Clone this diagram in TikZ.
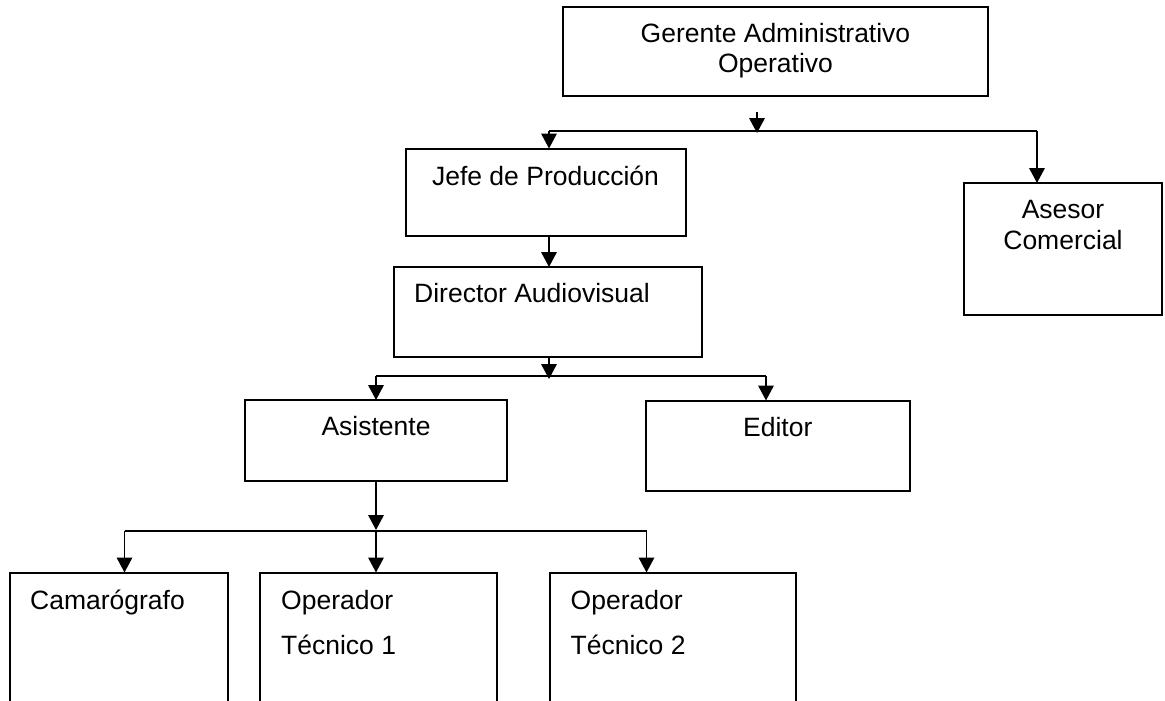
\documentclass[tikz,border=0pt]{standalone}
\usepackage{fontspec}
\setmainfont{Liberation Sans}
\usepackage{tikz}
\usetikzlibrary{arrows.meta,positioning}
\tikzstyle{caja}=[
	rectangle,
	draw=black,
	line width=2pt,
	anchor=north west,
	outer sep=0pt,
	inner sep=0pt
]
\tikzstyle{texto}=[
	font=\fontsize{26.5}{30.5}\selectfont,
	inner sep=0pt,
	align=center
]
\tikzstyle{textoizq}=[
	font=\fontsize{26.5}{45.3}\selectfont,
	inner sep=0pt,
	align=left
]
\tikzstyle{linea}=[
	-,
	draw=black,
	line width=1.9pt
]
\tikzstyle{flecha}=[
	linea,
	-{Triangle[length=15pt,width=15.5pt]}
]

\begin{document}
\begin{tikzpicture}[x=1pt,y=-1pt]
\useasboundingbox (0,0) rectangle (1165,701);
\clip (0,0) rectangle (1165,701);

\node[caja, minimum width=425pt, minimum height=89pt] (gerente) at (563,7) {};
\node[caja, minimum width=280pt, minimum height=87pt] (jefe) at (405.5,148.5) {};
\node[caja, minimum width=308pt, minimum height=89.5pt] (director) at (393.5,267) {};
\node[caja, minimum width=198pt, minimum height=132pt] (asesor) at (964,183) {};
\node[caja, minimum width=262pt, minimum height=80.5pt] (asistente) at (245,400) {};
\node[caja, minimum width=264.5pt, minimum height=90.5pt] (editor) at (645.5,400.5) {};
\node[caja, minimum width=218.5pt, minimum height=150pt] (camara) at (9.5,572.5) {};
\node[caja, minimum width=237pt, minimum height=150pt] (op1) at (260,572.5) {};
\node[caja, minimum width=246.5pt, minimum height=150pt] (op2) at (549.5,572.5) {};

% la ancla base es la linea de abajo
\node[texto, below=65.7pt of gerente.north, anchor=base] (tgerente) {Gerente Administrativo\\Operativo};
\node[texto, below=36.5pt of jefe.north, anchor=base] (tjefe) {Jefe de Producción};
\node[texto, below right=35.7pt and 20.5pt of director.north west, anchor=base west] (tdirector) {Director Audiovisual};
\node[texto, below=66.3pt of asesor.north, anchor=base] (tasesor) {Asesor\\Comercial};
\node[texto, below=35.7pt of asistente.north, anchor=base] (tasistente) {Asistente};
\node[texto, below=35.5pt of editor.north, anchor=base] (teditor) {Editor};
\node[textoizq, below right=36.5pt and 20.5pt of camara.north west, anchor=base west] (tcamara) {Camarógrafo};
\node[textoizq, below right=81.8pt and 21pt of op1.north west, anchor=base west] (top1) {Operador\\Técnico 1};
\node[textoizq, below right=81.8pt and 21pt of op2.north west, anchor=base west] (top2) {Operador\\Técnico 2};

\coordinate (g0) at (757,111.5);
\coordinate (g1) at (757,133);
\coordinate (b1l) at (549,131);
\coordinate (b1r) at (1037,131);
\coordinate (d1) at (549,379);
\coordinate (b2l) at (376,376);
\coordinate (b2r) at (766,376);
\coordinate (a1) at (376,530);
\coordinate (b3l) at (124.5,531);
\coordinate (b3m) at (376,531);
\coordinate (b3r) at (646.5,531);

\draw[flecha] (g0) -- (g1);
\draw[linea] (b1l) -- (b1r);
\draw[flecha] (b1l) -- (b1l |- jefe.north);
\draw[flecha] (b1r) -- (b1r |- asesor.north);
\draw[flecha] (b1l |- jefe.south) -- (b1l |- director.north);

\draw[flecha] (b1l |- director.south) -- (d1);
\draw[linea] (b2l) -- (b2r);
\draw[flecha] (b2l) -- (b2l |- asistente.north);
\draw[flecha] (b2r) -- (b2r |- editor.north);

\draw[flecha] (asistente.south) -- (a1);
\draw[linea] (b3l) -- (b3r);
\draw[flecha] (b3l) -- (b3l |- camara.north);
\draw[flecha] (b3m) -- (b3m |- op1.north);
\draw[flecha] (b3r) -- (b3r |- op2.north);
\end{tikzpicture}
\end{document}
